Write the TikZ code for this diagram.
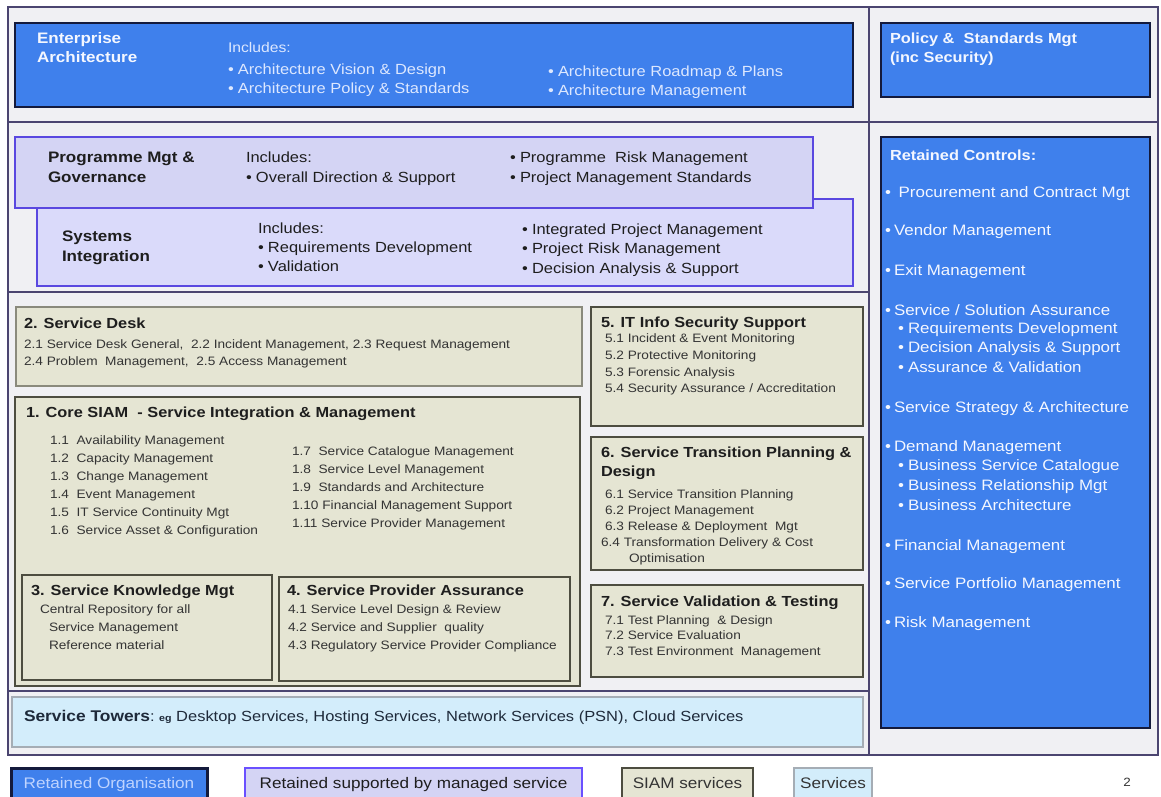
\documentclass[tikz,border=0pt]{standalone}
\usepackage{fontspec}
\setmainfont{Liberation Sans}[FakeStretch=1.12]
\definecolor{framebg}{HTML}{F0F0F3}
\definecolor{frameline}{HTML}{4B4570}
\definecolor{bluefill}{HTML}{3F80EC}
\definecolor{blueline}{HTML}{141A3C}
\definecolor{lavfill}{HTML}{D4D4F4}
\definecolor{lavfillb}{HTML}{DADAFA}
\definecolor{lavline}{HTML}{5A48E0}
\definecolor{lavlineleg}{HTML}{6A50FF}
\definecolor{beige}{HTML}{E5E5D3}
\definecolor{beigeline}{HTML}{4D4D40}
\definecolor{beigelinelt}{HTML}{8A8A7C}
\definecolor{skyfill}{HTML}{D3EDFB}
\definecolor{skyline}{HTML}{A5ADB5}
\definecolor{whitetxt}{HTML}{F4F7FF}
\definecolor{paletxt}{HTML}{DDE8FF}
\definecolor{legbluetxt}{HTML}{BFD4FF}
\definecolor{darktxt}{HTML}{1E1E1E}
\definecolor{itemtxt}{HTML}{343434}
\definecolor{towertxt}{HTML}{1E2A3A}
\newcommand\fEAT{\fontsize{15.2}{18}\selectfont\bfseries}
\newcommand\fBody{\fontsize{14.7}{18}\selectfont}
\newcommand\fInc{\fontsize{14}{17}\selectfont}
\newcommand\fRC{\fontsize{15.1}{18}\selectfont}
\newcommand\fST{\fontsize{14.6}{17}\selectfont\bfseries}
\newcommand\fI{\fontsize{12.2}{14}\selectfont}
\newcommand\fLeg{\fontsize{15.3}{18}\selectfont}
\newcommand\mybul{\makebox[10pt][l]{•}}
\newcommand\mybulr{\makebox[9pt][l]{•}}
\begin{document}
\begin{tikzpicture}[x=1pt,y=-1pt,
  txt/.style={anchor=base west,inner sep=0pt,outer sep=0pt},
  ctr/.style={anchor=base,inner sep=0pt,outer sep=0pt},
  bluebox/.style={fill=bluefill,draw=blueline,line width=2.4pt},
  lavbox/.style={fill=lavfill,draw=lavline,line width=1.8pt},
  siambox/.style={fill=beige,draw=beigeline,line width=1.8pt},
  skybox/.style={fill=skyfill,draw=skyline,line width=1.5pt},
  sepline/.style={draw=frameline,line width=2pt},
  wt/.style={txt,text=whitetxt},
  pt/.style={txt,text=paletxt,font=\fBody},
  bk/.style={txt,text=darktxt},
  bd/.style={txt,text=darktxt,font=\fBody},
  rc/.style={txt,text=whitetxt,font=\fRC},
  st/.style={txt,text=darktxt,font=\fST},
  itm/.style={txt,text=itemtxt,font=\fI}]
\useasboundingbox (0,0) rectangle (1161,796);
\clip (0,0) rectangle (1161,796);
\fill[white] (0,0) rectangle (1161,796);
\fill[framebg] (8,7) rectangle (1158,755);
% ---------- boxes
\path[bluebox] (15,23) rectangle (853,107);
\path[bluebox] (881,23) rectangle (1150,97);
\path[bluebox] (881,137) rectangle (1150,728);
\path[lavbox,fill=lavfillb] (37,199) rectangle (853,286);
\path[lavbox] (15,137) rectangle (813,208);
\path[siambox,draw=beigelinelt] (16,307) rectangle (582,386);
\path[siambox] (15,397) rectangle (580,686);
\path[siambox] (22,575) rectangle (272,680);
\path[siambox] (279,577) rectangle (570,681);
\path[siambox] (591,307) rectangle (863,426);
\path[siambox] (591,437) rectangle (863,570);
\path[siambox] (591,585) rectangle (863,677);
\path[skybox] (12,697) rectangle (863,747);
% ---------- frame lines
\draw[sepline] (8,122) -- (1158,122);
\draw[sepline] (8,292) -- (869,292);
\draw[sepline] (8,691) -- (869,691);
\draw[sepline] (869,7) -- (869,755);
\draw[sepline] (8,7) rectangle (1158,755);
% ---------- Enterprise Architecture
\node[wt,font=\fEAT] (ea1) at (37,43.3) {Enterprise};
\node[wt,font=\fEAT] (ea2) at (37,62.3) {Architecture};
\node[txt,text=paletxt,font=\fInc] (eainc) at (228,52) {Includes:};
\node[pt] (eab1) at (228,74.1) {\mybul Architecture Vision \& Design};
\node[pt] (eab2) at (228,93.1) {\mybul Architecture Policy \& Standards};
\node[pt] (eab3) at (548,76.1) {\mybul Architecture Roadmap \& Plans};
\node[pt] (eab4) at (548,95.1) {\mybul Architecture Management};
% ---------- Policy
\node[wt,font=\fST] (pol1) at (890,43.1) {Policy \&\ \ Standards Mgt};
\node[wt,font=\fST] (pol2) at (890,62.1) {(inc Security)};
% ---------- Programme
\node[bk,font=\fEAT] (pg1) at (48,162.3) {Programme Mgt \&};
\node[bk,font=\fEAT] (pg2) at (48,182.3) {Governance};
\node[bd] (pgi) at (246,162.1) {Includes:};
\node[bd] (pgb1) at (246,182.1) {\mybul Overall Direction \& Support};
\node[bd] (pgb2) at (510,162.1) {\mybul Programme\ \ Risk Management};
\node[bd] (pgb3) at (510,182.1) {\mybul Project Management Standards};
% ---------- Systems Integration
\node[bk,font=\fEAT] (si1) at (62,241.3) {Systems};
\node[bk,font=\fEAT] (si2) at (62,261.3) {Integration};
\node[bd] (sii) at (258,233.1) {Includes:};
\node[bd] (sib1) at (258,252.1) {\mybul Requirements Development};
\node[bd] (sib2) at (258,271.1) {\mybul Validation};
\node[bd] (sib3) at (522,234.1) {\mybul Integrated Project Management};
\node[bd] (sib4) at (522,253.1) {\mybul Project Risk Management};
\node[bd] (sib5) at (522,273.1) {\mybul Decision Analysis \& Support};
% ---------- Retained Controls
\node[wt,font=\fST] (rct) at (890,160.2) {Retained Controls:};
\node[rc] (rc1) at (885,197.3) {\mybulr\ Procurement and Contract Mgt};
\node[rc] (rc2) at (885,235.3) {\mybulr Vendor Management};
\node[rc] (rc3) at (885,275.3) {\mybulr Exit Management};
\node[rc] (rc4) at (885,315.3) {\mybulr Service / Solution Assurance};
\node[rc] (rc4a) at (898,333.3) {\mybul Requirements Development};
\node[rc] (rc4b) at (898,352.3) {\mybul Decision Analysis \& Support};
\node[rc] (rc4c) at (898,372.3) {\mybul Assurance \& Validation};
\node[rc] (rc5) at (885,412.3) {\mybulr Service Strategy \& Architecture};
\node[rc] (rc6) at (885,451.3) {\mybulr Demand Management};
\node[rc] (rc6a) at (898,470.3) {\mybul Business Service Catalogue};
\node[rc] (rc6b) at (898,490.3) {\mybul Business Relationship Mgt};
\node[rc] (rc6c) at (898,510.3) {\mybul Business Architecture};
\node[rc] (rc7) at (885,550.3) {\mybulr Financial Management};
\node[rc] (rc8) at (885,588.3) {\mybulr Service Portfolio Management};
\node[rc] (rc9) at (885,627.3) {\mybulr Risk Management};
% ---------- 2. Service Desk
\node[st] (sd) at (24,328.1) {2. Service Desk};
\node[itm] (sd1) at (24,348.3) {2.1 Service Desk General,\ \ 2.2 Incident Management, 2.3 Request Management};
\node[itm] (sd2) at (24,365.3) {2.4 Problem\ \ Management,\ \ 2.5 Access Management};
% ---------- 1. Core SIAM
\node[st] (cs) at (26,417.1) {1. Core SIAM\ \ - Service Integration \& Management};
\node[itm] (cs1) at (50,444.3) {1.1\ \ Availability\ Management};
\node[itm] (cs2) at (50,462.3) {1.2\ \ Capacity Management};
\node[itm] (cs3) at (50,480.3) {1.3\ \ Change Management};
\node[itm] (cs4) at (50,498.3) {1.4\ \ Event Management};
\node[itm] (cs5) at (50,516.3) {1.5\ \ IT Service Continuity\ Mgt};
\node[itm] (cs6) at (50,534.3) {1.6\ \ Service Asset \& Configuration};
\node[itm] (cs7) at (292,455.3) {1.7\ \ Service Catalogue\ Management};
\node[itm] (cs8) at (292,473.3) {1.8\ \ Service Level Management};
\node[itm] (cs9) at (292,491.3) {1.9\ \ Standards and Architecture};
\node[itm] (cs10) at (292,509.3) {1.10 Financial Management\ Support};
\node[itm] (cs11) at (292,527.3) {1.11 Service Provider Management};
% ---------- 3. Service Knowledge
\node[st] (sk) at (31,595.1) {3. Service Knowledge Mgt};
\node[itm] (sk1) at (40,613.3) {Central Repository for all};
\node[itm] (sk2) at (49,631.3) {Service Management};
\node[itm] (sk3) at (49,649.3) {Reference material};
% ---------- 4. Service Provider Assurance
\node[st] (spa) at (287,595.1) {4. Service Provider Assurance};
\node[itm] (spa1) at (288,613.3) {4.1 Service Level Design \& Review};
\node[itm] (spa2) at (288,631.3) {4.2 Service and Supplier\ \ quality};
\node[itm] (spa3) at (288,649.3) {4.3 Regulatory Service Provider Compliance};
% ---------- 5. IT Info Security
\node[st] (is) at (601,327.1) {5. IT Info Security Support};
\node[itm] (is1) at (605,342.3) {5.1 Incident \& Event Monitoring};
\node[itm] (is2) at (605,359.3) {5.2 Protective Monitoring};
\node[itm] (is3) at (605,376.3) {5.3 Forensic Analysis};
\node[itm] (is4) at (605,392.3) {5.4 Security Assurance / Accreditation};
% ---------- 6. Transition
\node[st] (tr) at (601,457.1) {6. Service Transition Planning \&};
\node[st] (tr0) at (601,476.1) {Design};
\node[itm] (tr1) at (605,498.3) {6.1 Service Transition Planning};
\node[itm] (tr2) at (605,514.3) {6.2 Project Management};
\node[itm] (tr3) at (605,530.3) {6.3 Release \& Deployment\ \ Mgt};
\node[itm] (tr4) at (601,546.3) {6.4 Transformation Delivery \& Cost};
\node[itm] (tr5) at (629,562.3) {Optimisation};
% ---------- 7. Validation
\node[st] (vt) at (601,606.1) {7. Service Validation \& Testing};
\node[itm] (vt1) at (605,624.3) {7.1 Test Planning\ \ \& Design};
\node[itm] (vt2) at (605,639.3) {7.2 Service Evaluation};
\node[itm] (vt3) at (605,655.3) {7.3 Test Environment\ \ Management};
% ---------- Service Towers
\node[txt,text=towertxt] (tow) at (24,721.3) {{\fontsize{15.5}{18}\selectfont\bfseries Service Towers}{\fBody:\ }{\fontsize{9.5}{12}\selectfont\bfseries eg}{\fBody\ Desktop Services, Hosting Services, Network Services (PSN), Cloud Services}};
% ---------- Legend
\path[fill=bluefill,draw=blueline,line width=3pt] (11,768) rectangle (207,802);
\node[ctr,text=legbluetxt,font=\fLeg] (lg1) at (109,788.4) {Retained Organisation};
\path[fill=lavfill,draw=lavlineleg,line width=2.5pt] (245,768) rectangle (582,802);
\node[ctr,text=darktxt,font=\fLeg] (lg2) at (413.5,788.4) {Retained supported by managed service};
\path[siambox,line width=2pt] (622,768) rectangle (753,802);
\node[ctr,text=itemtxt,font=\fLeg] (lg3) at (687.5,788.4) {SIAM services};
\path[skybox] (794,768) rectangle (872,802);
\node[ctr,text=itemtxt,font=\fLeg] (lg4) at (833,788.4) {Services};
\node[ctr,text=itemtxt,font=\fontsize{12}{14}\selectfont] (pg) at (1127,786) {2};
\end{tikzpicture}
\end{document}
